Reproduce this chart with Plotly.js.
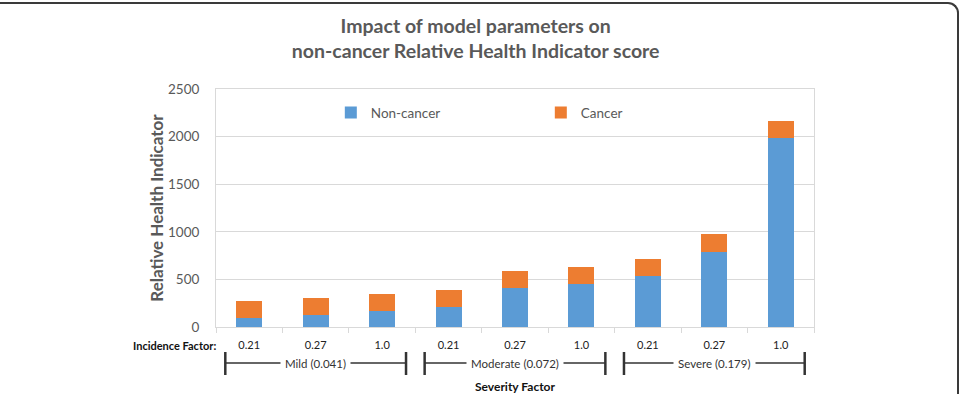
<!DOCTYPE html>
<html>
<head>
<meta charset="utf-8">
<script src="https://cdn.plot.ly/plotly-3.0.1.min.js"></script>
<style>
  html, body { margin: 0; padding: 0; background: #ffffff; overflow: hidden; }
  #wrap { position: relative; width: 961px; height: 394px; }
  #chart { position: absolute; left: 0; top: 0; width: 961px; height: 394px; }
  /* rounded frame around the figure (left edge falls outside the page) */
  #frame {
    position: absolute; top: 2px; left: -30px; right: 2px; height: 440px;
    box-sizing: border-box;
    border-top: 2px solid #3a3a3a; border-right: 2px solid #3a3a3a;
    border-top-right-radius: 11px; pointer-events: none;
  }
</style>
</head>
<body>
<div id="wrap">
  <div id="chart"></div>
  <div id="frame"></div>
</div>
<script>
// Severity groups and incidence factors (x categories)
const severityGroups = ['Mild (0.041)', 'Moderate (0.072)', 'Severe (0.179)'];
const incidenceFactors = ['0.21', '0.27', '1.0'];

// Relative Health Indicator components, one value per (severity, incidence) pair
const nonCancer = [95, 123, 165, 207, 410, 452, 533, 793, 1987];
const cancer = [180, 180, 180, 178, 179, 179, 179, 179, 179];

// y axis ticks
const yTicks = [0, 500, 1000, 1500, 2000, 2500];

const categories = [];
const tickText = [];
severityGroups.forEach(function (g) {
  incidenceFactors.forEach(function (f) {
    categories.push(g + ' | ' + f);
    tickText.push(f);
  });
});

const gray = '#595959';
const font = 'Lato, "Open Sans", sans-serif';

const traces = [
  { type: 'bar', name: 'Non-cancer', x: categories, y: nonCancer,
    marker: { color: '#5B9BD5' }, hoverinfo: 'y+name' },
  { type: 'bar', name: 'Cancer', x: categories, y: cancer,
    marker: { color: '#ED7D31' }, hoverinfo: 'y+name' }
];

// plot-area geometry used to place the bracket row below the axis
const plotTopPx = 89, plotBottomPx = 327;
const plotH = plotBottomPx - plotTopPx;
function pyPaper(px) { return (plotBottomPx - px) / plotH; }

const shapes = [];
const annotations = [
  { text: '<b>Incidence Factor:</b>', xref: 'paper', yref: 'paper',
    x: 0.003, y: pyPaper(345), xanchor: 'right', yanchor: 'middle',
    showarrow: false, font: { family: font, size: 11, color: '#111111' } }
];

const n = incidenceFactors.length;
const halfSpan = 1.36;
severityGroups.forEach(function (g, gi) {
  const c = gi * n + (n - 1) / 2;
  const x0 = c - halfSpan, x1 = c + halfSpan;
  const yl = pyPaper(363), yc0 = pyPaper(352), yc1 = pyPaper(375);
  shapes.push({ type: 'line', xref: 'x', yref: 'paper', x0: x0, x1: x1, y0: yl, y1: yl,
    line: { color: '#333333', width: 1.5 } });
  shapes.push({ type: 'line', xref: 'x', yref: 'paper', x0: x0, x1: x0, y0: yc0, y1: yc1,
    line: { color: '#333333', width: 2.5 } });
  shapes.push({ type: 'line', xref: 'x', yref: 'paper', x0: x1, x1: x1, y0: yc0, y1: yc1,
    line: { color: '#333333', width: 2.5 } });
  annotations.push({ text: g, xref: 'x', yref: 'paper', x: c, y: yl,
    xanchor: 'center', yanchor: 'middle', showarrow: false,
    bgcolor: '#ffffff', borderpad: 4,
    font: { family: font, size: 11.5, color: '#333333' } });
});

const layout = {
  width: 961, height: 394,
  margin: { l: 216, r: 147, t: plotTopPx, b: 394 - plotBottomPx, pad: 0 },
  paper_bgcolor: '#ffffff', plot_bgcolor: '#ffffff',
  font: { family: font, color: gray },
  title: {
    text: '<b>Impact of model parameters on<br>non-cancer Relative Health Indicator score</b>',
    xref: 'container', x: 0.495, xanchor: 'center',
    yref: 'container', y: 1 - 33 / 394, yanchor: 'middle',
    font: { family: font, size: 19.5, color: gray }
  },
  barmode: 'stack',
  bargap: 0.61,
  showlegend: true,
  legend: {
    orientation: 'h', x: 0.192, xanchor: 'left', y: 0.90, yanchor: 'middle',
    entrywidth: 165, entrywidthmode: 'pixels',
    font: { family: font, size: 13.5, color: gray },
    bgcolor: 'rgba(0,0,0,0)', traceorder: 'normal'
  },
  xaxis: {
    type: 'category', tickvals: categories, ticktext: tickText,
    tickson: 'boundaries', ticks: 'outside', ticklen: 5, tickcolor: '#d9d9d9',
    ticklabelstandoff: 8,
    showline: true, linecolor: '#d9d9d9', linewidth: 1, mirror: true,
    showgrid: false, zeroline: false,
    tickfont: { family: font, size: 11, color: '#222222' },
    title: { text: '<b>Severity Factor</b>', standoff: 36,
      font: { family: font, size: 12, color: '#111111' } },
    fixedrange: true
  },
  yaxis: {
    range: [0, 2500], tickvals: yTicks,
    showgrid: true, gridcolor: '#d9d9d9', gridwidth: 1,
    showline: true, linecolor: '#d9d9d9', linewidth: 1, mirror: true,
    zeroline: false, ticks: '', ticklabelstandoff: 13,
    tickfont: { family: font, size: 13.5, color: gray },
    title: { text: '<b>Relative Health Indicator</b>', standoff: 0,
      font: { family: font, size: 17, color: gray } },
    fixedrange: true
  },
  shapes: shapes,
  annotations: annotations
};

Plotly.newPlot('chart', traces, layout, { displayModeBar: false, staticPlot: true });
</script>
</body>
</html>
